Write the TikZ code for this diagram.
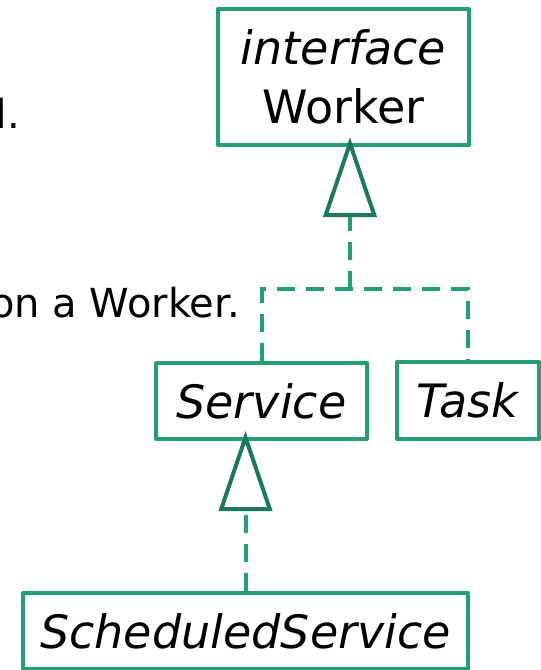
\documentclass[tikz,border=0pt]{standalone}
\usepackage{fontspec}
\setmainfont{DejaVu Sans}
\usetikzlibrary{arrows.meta}
\definecolor{boxgreen}{RGB}{33,160,120}
\definecolor{trigreen}{RGB}{26,122,94}
\begin{document}
\begin{tikzpicture}[x=1pt,y=-1pt,
  umlbox/.style={draw=boxgreen, line width=4pt, line join=round, rectangle, inner sep=0pt, font=\fontsize{46}{59}\selectfont, align=center},
  lefttext/.style={font=\fontsize{40}{48}\selectfont, anchor=base east, inner sep=0pt},
  realize/.style={draw=boxgreen, line width=4pt, dash pattern=on 18pt off 11pt},
  inherit/.style={-{Triangle[open, length=80pt, width=53pt, color=trigreen, fill=white]}, shorten >=-10pt}]
\useasboundingbox (0,0) rectangle (541,670);
\clip (0,0) rectangle (541,670);
\node[umlbox, minimum width=251pt, minimum height=136pt] (wk) at (343.5,77) {\textit{interface}\\Worker};
\node[umlbox, minimum width=211pt, minimum height=76pt] (sv) at (261.5,401) {\textit{Service}};
\node[umlbox, minimum width=142pt, minimum height=77pt] (tk) at (468,400.5) {\textit{Task}};
\node[umlbox, minimum width=445pt, minimum height=76pt] (sch) at (245.5,631) {\textit{ScheduledService}};
\node[lefttext] (t1) at (20,128) {d.};
\node[lefttext] (t2) at (240,317) {on a Worker.};
\coordinate (j) at (350,289);
\draw[realize] (sv.north) |- (j) -| (tk.north);
\draw[realize, inherit] (j) -- (wk.south -| j);
\draw[realize, inherit] (sch.north) -- (sv.south -| sch.north);
\end{tikzpicture}
\end{document}
